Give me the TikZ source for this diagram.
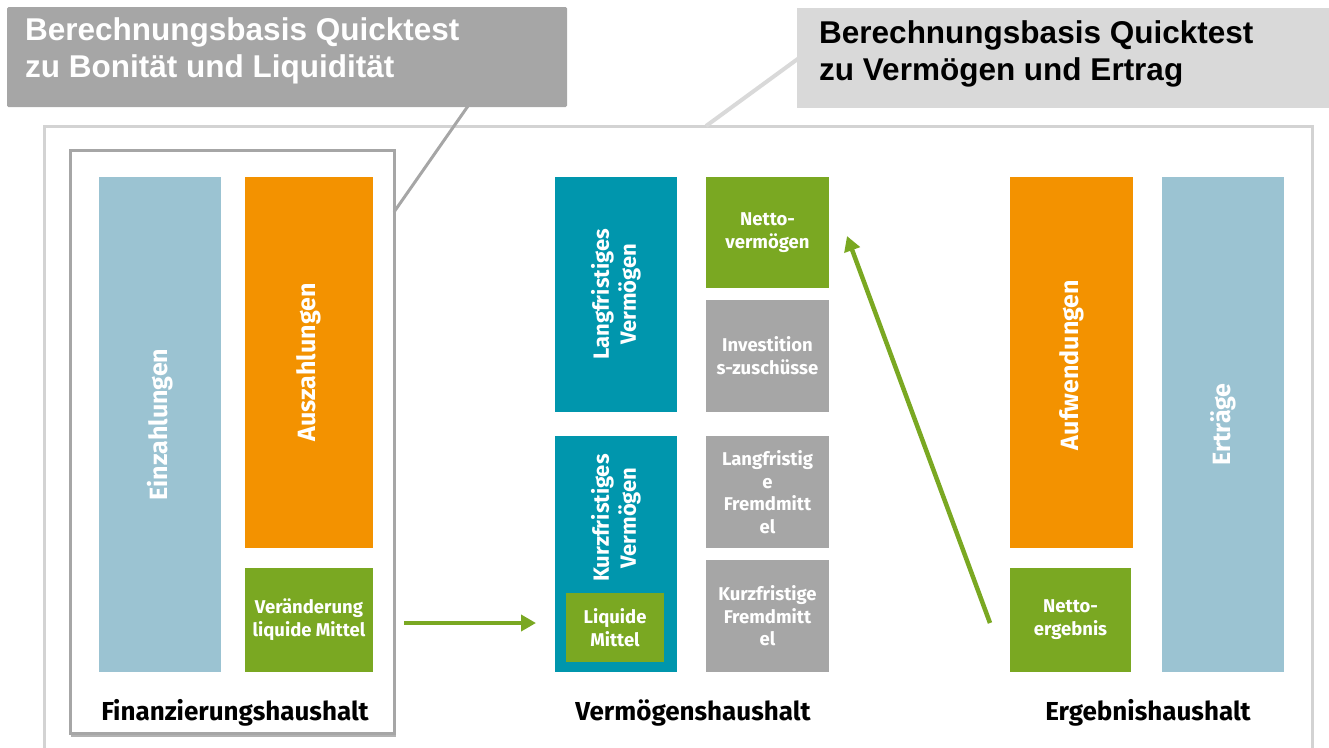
\documentclass[tikz,border=0pt]{standalone}
\usepackage{fontspec}
\setmainfont{Fira Sans}
\newfontfamily\arialf{Liberation Sans}
\usetikzlibrary{arrows.meta}
\definecolor{cblue}{HTML}{9BC3D2}
\definecolor{corange}{HTML}{F39200}
\definecolor{cgreen}{HTML}{7AA822}
\definecolor{cteal}{HTML}{0096AD}
\definecolor{cgray}{HTML}{A6A6A6}
\definecolor{clgray}{HTML}{D9D9D9}
\definecolor{cframe}{HTML}{D3D3D3}
\tikzset{
  blk/.style={rectangle, inner sep=0pt, draw=none},
  btxt/.style={text=white, font=\bfseries\fontsize{18.5}{23}\selectfont, align=center, inner sep=0pt},
  vtxt/.style={text=white, font=\bfseries\fontsize{25}{28}\selectfont, align=center, inner sep=0pt, rotate=90},
  vtxts/.style={text=white, font=\bfseries\fontsize{22}{27}\selectfont, align=center, inner sep=0pt, rotate=90},
  lbl/.style={text=black, font=\bfseries\fontsize{26}{30}\selectfont, inner sep=0pt},
  ttl/.style={font=\arialf\bfseries\fontsize{31.5}{37}\selectfont, align=left, anchor=north west, inner sep=0pt},
  garrow/.style={draw=cgreen, line width=4.5pt, -{Triangle[length=15pt,width=16pt]}},
}
\begin{document}
\begin{tikzpicture}[x=1pt,y=-1pt]
\useasboundingbox (0,0) rectangle (1329,747);
% outer frame
\draw[cframe, line width=3pt] (44,760) -- (44,126) -- (1312,126) -- (1312,760);
% left group frame (shadow + frame)
\draw[gray!60, line width=3pt] (71,735) -- (396,735);
\draw[cgray, line width=3pt] (70,150) rectangle (394,733);
% callouts
\draw[cgray, line width=3pt] (468,106) -- (394,212);
\draw[clgray, line width=4pt] (799,58) -- (706,126);
\node[blk, fill=cgray, minimum width=560pt, minimum height=100pt, rounded corners=1.5pt] (c1) at (287,57) {};
\node[ttl, text=white] (c1t) at (25,17) {Berechnungsbasis Quicktest\\zu Bonität und Liquidität};
\node[blk, fill=clgray, minimum width=532pt, minimum height=100pt] (c2) at (1063,58) {};
\node[ttl, text=black] (c2t) at (819,20) {Berechnungsbasis Quicktest\\zu Vermögen und Ertrag};
% Finanzierungshaushalt
\node[blk, fill=cblue, minimum width=122pt, minimum height=495pt] (ein) at (160,424.5) {};
\node[vtxt] (eint) at (ein.center) {Einzahlungen};
\node[blk, fill=corange, minimum width=128pt, minimum height=371pt] (aus) at (309,362.5) {};
\node[vtxt] (aust) at (aus.center) {Auszahlungen};
\node[blk, fill=cgreen, minimum width=128pt, minimum height=104pt] (ver) at (309,620) {};
\node[btxt] (vert) at (ver.center) {Veränderung\\liquide Mittel};
% Vermögenshaushalt
\node[blk, fill=cteal, minimum width=122pt, minimum height=235pt] (lv) at (616,294.5) {};
\node[vtxts] (lvt) at (lv.center) {Langfristiges\\Vermögen};
\node[blk, fill=cgreen, minimum width=123pt, minimum height=111pt] (nv) at (767.5,232.5) {};
\node[btxt] (nvt) at (nv.center) {Netto-\\vermögen};
\node[blk, fill=cgray, minimum width=123pt, minimum height=112pt] (inv) at (767.5,356) {};
\node[btxt] (invt) at (inv.center) {Investition\\s-zuschüsse};
\node[blk, fill=cteal, minimum width=122pt, minimum height=236pt] (kv) at (616,554) {};
\node[vtxts] (kvt) at (616,518) {Kurzfristiges\\Vermögen};
\node[blk, fill=cgreen, minimum width=98pt, minimum height=69pt] (lm) at (615,627.5) {};
\node[btxt] (lmt) at (lm.center) {Liquide\\Mittel};
\node[blk, fill=cgray, minimum width=123pt, minimum height=112pt] (lf) at (767.5,492) {};
\node[btxt, font=\bfseries\fontsize{18.5}{22.5}\selectfont] (lft) at (lf.center) {Langfristig\\e\\Fremdmitt\\el};
\node[blk, fill=cgray, minimum width=123pt, minimum height=112pt] (kf) at (767.5,616) {};
\node[btxt, font=\bfseries\fontsize{18.5}{22.5}\selectfont] (kft) at (kf.center) {Kurzfristige\\Fremdmitt\\el};
% Ergebnishaushalt
\node[blk, fill=corange, minimum width=123pt, minimum height=371pt] (auf) at (1071.5,362.5) {};
\node[vtxt] (auft) at (1071.5,365) {Aufwendungen};
\node[blk, fill=cgreen, minimum width=121pt, minimum height=104pt] (ne) at (1070.5,620) {};
\node[btxt] (net) at (ne.center) {Netto-\\ergebnis};
\node[blk, fill=cblue, minimum width=122pt, minimum height=495pt] (ert) at (1223,424.5) {};
\node[vtxt] (ertt) at (ert.center) {Erträge};
% labels
\node[lbl] (l1) at (235,713) {Finanzierungshaushalt};
\node[lbl] (l2) at (693,713) {Vermögenshaushalt};
\node[lbl] (l3) at (1148,713) {Ergebnishaushalt};
% arrows
\coordinate (a1s) at (404,623);
\coordinate (a1e) at (536,623);
\coordinate (a2s) at (990,623);
\coordinate (a2e) at (847,236);
\draw[garrow] (a1s) -- (a1e);
\draw[garrow] (a2s) -- (a2e);
\end{tikzpicture}
\end{document}
